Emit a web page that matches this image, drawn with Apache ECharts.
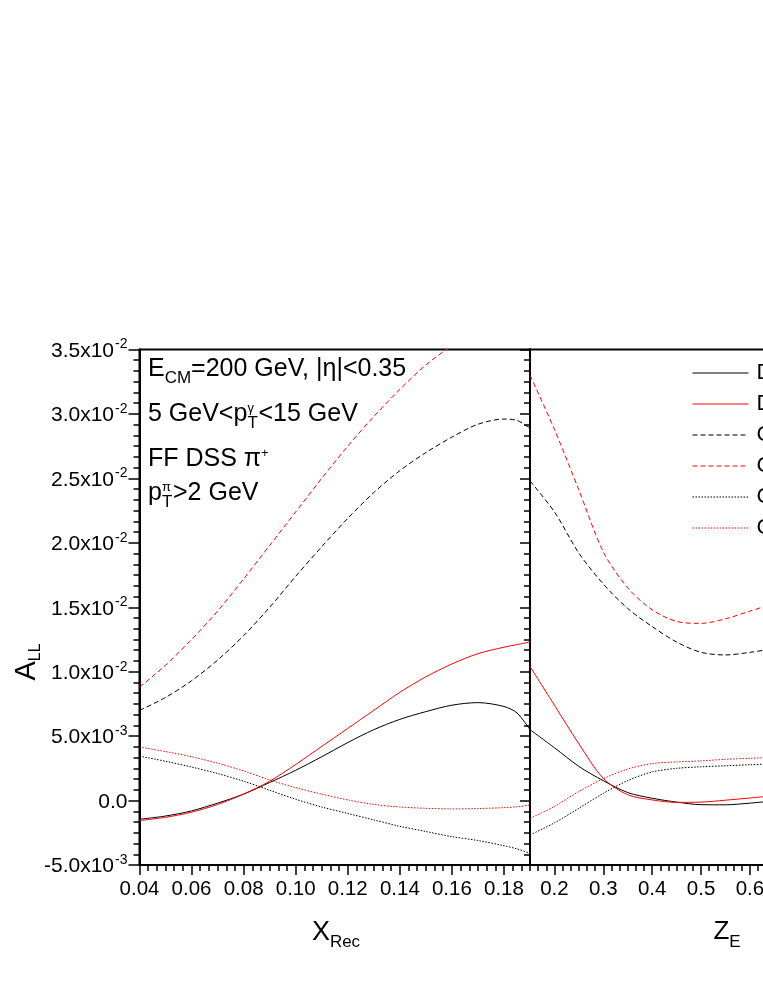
<!DOCTYPE html>
<html><head><meta charset="utf-8">
<script src="https://cdn.jsdelivr.net/npm/echarts@6/dist/echarts.min.js"></script>
<style>html,body{margin:0;padding:0;overflow:hidden;background:#fff}#c{width:940px;height:987px}</style>
</head><body><div id="c"></div>
<script>
// ---------- data (A_LL in units of 1e-3) ----------
const xRec = [0.04,0.05,0.06,0.07,0.08,0.09,0.10,0.11,0.12,0.13,0.14,0.15,0.16,0.17,0.18,0.185,0.19];
const solidBlackL = [-1.45,-1.2,-0.8,-0.2,0.5,1.4,2.35,3.4,4.5,5.5,6.3,6.9,7.4,7.6,7.3,6.8,5.5];
const solidRedL   = [-1.55,-1.3,-0.9,-0.3,0.5,1.5,2.8,4.2,5.6,7.0,8.4,9.6,10.6,11.4,11.9,12.1,12.3];
const dashBlackL  = [7.0,8.0,9.3,10.9,12.8,15.0,17.4,19.7,21.9,23.9,25.6,27.0,28.2,29.2,29.6,29.5,28.9];
const dashRedL    = [8.8,10.5,12.5,14.7,17.2,19.8,22.4,25.0,27.5,29.8,31.9,33.8,35.3,36.6,37.6,38.0,38.4];
const dotBlackL   = [3.45,3.05,2.6,2.1,1.5,0.8,0.1,-0.5,-1.0,-1.5,-2.0,-2.4,-2.8,-3.1,-3.5,-3.75,-4.1];
const dotRedL     = [4.15,3.8,3.4,2.9,2.3,1.6,1.0,0.5,0.05,-0.3,-0.5,-0.6,-0.65,-0.62,-0.55,-0.48,-0.35];

const zE = [0.15,0.20,0.25,0.30,0.35,0.40,0.45,0.50,0.55,0.60,0.65];
const solidBlackR = [5.5,4.1,2.65,1.54,0.62,0.18,-0.12,-0.32,-0.33,-0.2,-0.02];
const solidRedR   = [10.4,7.4,4.4,1.72,0.45,0.05,-0.14,-0.12,0.03,0.2,0.38];
const dashBlackR  = [24.8,22.4,19.2,16.8,14.9,13.5,12.3,11.5,11.3,11.5,11.8];
const dashRedR    = [33.0,28.8,24.1,19.3,16.5,14.8,13.9,13.75,14.1,14.7,15.3];
const dotBlackR   = [-2.67,-1.73,-0.6,0.56,1.55,2.22,2.5,2.62,2.7,2.78,2.86];
const dotRedR     = [-1.38,-0.45,0.7,1.7,2.45,2.87,3.0,3.08,3.2,3.28,3.35];

const seriesNames = ['DSSV','DNS','GRSV std','GRSV max','GS-C','GRSV min'];

// tick labels
const yTickValues = [-5,0,5,10,15,20,25,30,35];
const yTickMant = ['-5.0','0.0','5.0','1.0','1.5','2.0','2.5','3.0','3.5'];
const yTickExp  = ['-3','','-3','-2','-2','-2','-2','-2','-2'];
const xRecTicks = [0.04,0.06,0.08,0.10,0.12,0.14,0.16,0.18];
const xRecTickLabels = ['0.04','0.06','0.08','0.10','0.12','0.14','0.16','0.18'];
const zTicks = [0.2,0.3,0.4,0.5,0.6,0.7,0.8,0.9];
const zTickLabels = ['0.2','0.3','0.4','0.5','0.6','0.7','0.8','0.9'];

// minor tick positions (6 sub-divisions per major interval)
const xRecMinor = []; for (let k = 0; k <= 45; k++) xRecMinor.push(+(0.04 + k*0.02/6).toFixed(6));
const zMinor = []; for (let k = 0; k <= 48; k++) zMinor.push(+(0.15 + k*0.1/6).toFixed(6));

const FONT = '"Liberation Sans", Arial, sans-serif';
const BLACK = '#000000', RED = '#ff0000';
const styles = [
  {color:BLACK, type:'solid'},{color:RED, type:'solid'},
  {color:BLACK, type:[5,3]},{color:RED, type:[5,3]},
  {color:BLACK, type:[1.5,1.5]},{color:RED, type:[1.5,1.5]}
];
const leftData = [solidBlackL, solidRedL, dashBlackL, dashRedL, dotBlackL, dotRedL];
const rightData = [solidBlackR, solidRedR, dashBlackR, dashRedR, dotBlackR, dotRedR];

const TICK_FS = 20.5;
const GT = 349.5, GH = 515.5;
function mainX(grid, min, max, ticks, labels){
  return {type:'value', gridIndex:grid, min:min, max:max, position:'bottom',
    axisLine:{show:true, onZero:false, lineStyle:{color:BLACK, width:2}},
    axisTick:{show:true, inside:false, length:10, lineStyle:{color:BLACK, width:1.5}, customValues:ticks},
    axisLabel:{show:true, customValues:ticks, margin:14, color:BLACK, fontSize:TICK_FS, fontFamily:FONT,
      formatter:function(v){ const i = ticks.findIndex(t=>Math.abs(t-v)<1e-9); return i>=0?labels[i]:''; }},
    splitLine:{show:false}, minorTick:{show:false}};
}
function minorX(grid, min, max, ticks){
  return {type:'value', gridIndex:grid, min:min, max:max, position:'bottom',
    axisLine:{show:false, onZero:false},
    axisTick:{show:true, inside:false, length:6, lineStyle:{color:BLACK, width:1.5}, customValues:ticks},
    axisLabel:{show:false}, splitLine:{show:false}};
}
function yAx(grid, showLabel){
  return {type:'value', gridIndex:grid, min:-5, max:35, interval:5, position:'left',
    axisLine:{show:true, onZero:false, lineStyle:{color:BLACK, width:2}},
    axisTick:{show:true, inside:false, length:showLabel?11:10, lineStyle:{color:BLACK, width:1.5}},
    minorTick:{show:true, splitNumber:6, length:6, lineStyle:{color:BLACK, width:1.5}},
    axisLabel:{show:showLabel, margin:12, color:BLACK,
      formatter:function(v){ const i = yTickValues.findIndex(t=>Math.abs(t-v)<1e-6); if(i<0) return '';
        return yTickExp[i] ? '{m|'+yTickMant[i]+'x10}{e|'+yTickExp[i]+'}' : '{m|'+yTickMant[i]+'}'; },
      rich:{m:{fontSize:21, fontFamily:FONT, color:BLACK, lineHeight:24, verticalAlign:'bottom'},
            e:{fontSize:14, fontFamily:FONT, color:BLACK, lineHeight:24, verticalAlign:'top', padding:[0,0,0,1]}}},
    splitLine:{show:false}, minorSplitLine:{show:false}};
}

const series = [];
for (let i = 0; i < 6; i++) {
  series.push({type:'line', name:seriesNames[i], xAxisIndex:0, yAxisIndex:0,
    data: xRec.map((x,j)=>[x, leftData[i][j]]), symbol:'none', smooth:0.3, clip:true,
    lineStyle:{color:styles[i].color, type:styles[i].type, width:1}, itemStyle:{color:styles[i].color},
    silent:true, z:2});
}
for (let i = 0; i < 6; i++) {
  series.push({type:'line', name:seriesNames[i], xAxisIndex:2, yAxisIndex:1,
    data: zE.map((x,j)=>[x, rightData[i][j]]), symbol:'none', smooth:0.3, clip:true,
    lineStyle:{color:styles[i].color, type:styles[i].type, width:1}, itemStyle:{color:styles[i].color},
    silent:true, z:2});
}

const rm = {fontSize:25, fontFamily:FONT, color:BLACK, lineHeight:30, verticalAlign:'top'};
const rs = {fontSize:17, fontFamily:FONT, color:BLACK, lineHeight:4, verticalAlign:'bottom'};
const rsup = {fontSize:13, fontFamily:FONT, color:BLACK, lineHeight:4, verticalAlign:'top'};

const option = {
  animation:false, backgroundColor:'#ffffff',
  grid:[
    {left:139.5, top:GT, width:390.5, height:GH, show:true, borderColor:BLACK, borderWidth:2, backgroundColor:'transparent', containLabel:false, outerBoundsMode:'none'},
    {left:530, top:GT, width:391, height:GH, show:true, borderColor:BLACK, borderWidth:2, backgroundColor:'transparent', containLabel:false, outerBoundsMode:'none'}
  ],
  xAxis:[ mainX(0,0.04,0.19,xRecTicks,xRecTickLabels), minorX(0,0.04,0.19,xRecMinor),
          mainX(1,0.15,0.95,zTicks,zTickLabels), minorX(1,0.15,0.95,zMinor) ],
  yAxis:[ yAx(0,true), yAx(1,false) ],
  legend:{orient:'vertical', left:692, top:362, padding:0, itemWidth:56, itemHeight:14, itemGap:9,
    data:seriesNames.slice(),
    itemStyle:{opacity:0, borderWidth:0}, lineStyle:{width:1},
    textStyle:{fontSize:22, fontFamily:FONT, color:BLACK, padding:[0,0,0,3]}, selectedMode:false},
  series:series,
  graphic:[
    {type:'text', left:148, top:357, silent:true, style:{text:'{m|E}{s|CM}{m|=200 GeV, |η|<0.35}', rich:{m:rm, s:rs}}},
    {type:'text', left:148, top:402, silent:true, style:{text:'{m|5 GeV<p}{t|T}{g|γ}{m|<15 GeV}',
      rich:{m:rm, t:Object.assign({},rs,{width:0.1}), g:Object.assign({},rsup,{width:11})}}},
    {type:'text', left:148, top:447, silent:true, style:{text:'{m|FF DSS π}{p|+}', rich:{m:rm, p:rsup}}},
    {type:'text', left:148, top:481, silent:true, style:{text:'{m|p}{t|T}{g|π}{m|>2 GeV}',
      rich:{m:rm, t:Object.assign({},rs,{width:0.1}), g:Object.assign({},rsup,{width:11})}}},
    {type:'text', x:28, y:662, rotation:Math.PI/2, silent:true, style:{text:'{a|A}{l|LL}', align:'center', verticalAlign:'middle',
      rich:{a:{fontSize:29, fontFamily:FONT, color:BLACK, lineHeight:32, verticalAlign:'top'}, l:{fontSize:16, fontFamily:FONT, color:BLACK, lineHeight:4, verticalAlign:'bottom'}}}},
    {type:'text', x:336, y:935, silent:true, style:{text:'{a|X}{l|Rec}', align:'center', verticalAlign:'middle',
      rich:{a:{fontSize:27, fontFamily:FONT, color:BLACK, lineHeight:32, verticalAlign:'top'}, l:{fontSize:17, fontFamily:FONT, color:BLACK, lineHeight:4, verticalAlign:'bottom'}}}},
    {type:'text', x:727, y:935, silent:true, style:{text:'{a|Z}{l|E}', align:'center', verticalAlign:'middle',
      rich:{a:{fontSize:26, fontFamily:FONT, color:BLACK, lineHeight:32, verticalAlign:'top'}, l:{fontSize:17, fontFamily:FONT, color:BLACK, lineHeight:4, verticalAlign:'bottom'}}}}
  ]
};
const chart = echarts.init(document.getElementById('c'), null, {renderer:'canvas', width:940, height:987});
chart.setOption(option);
</script></body></html>
